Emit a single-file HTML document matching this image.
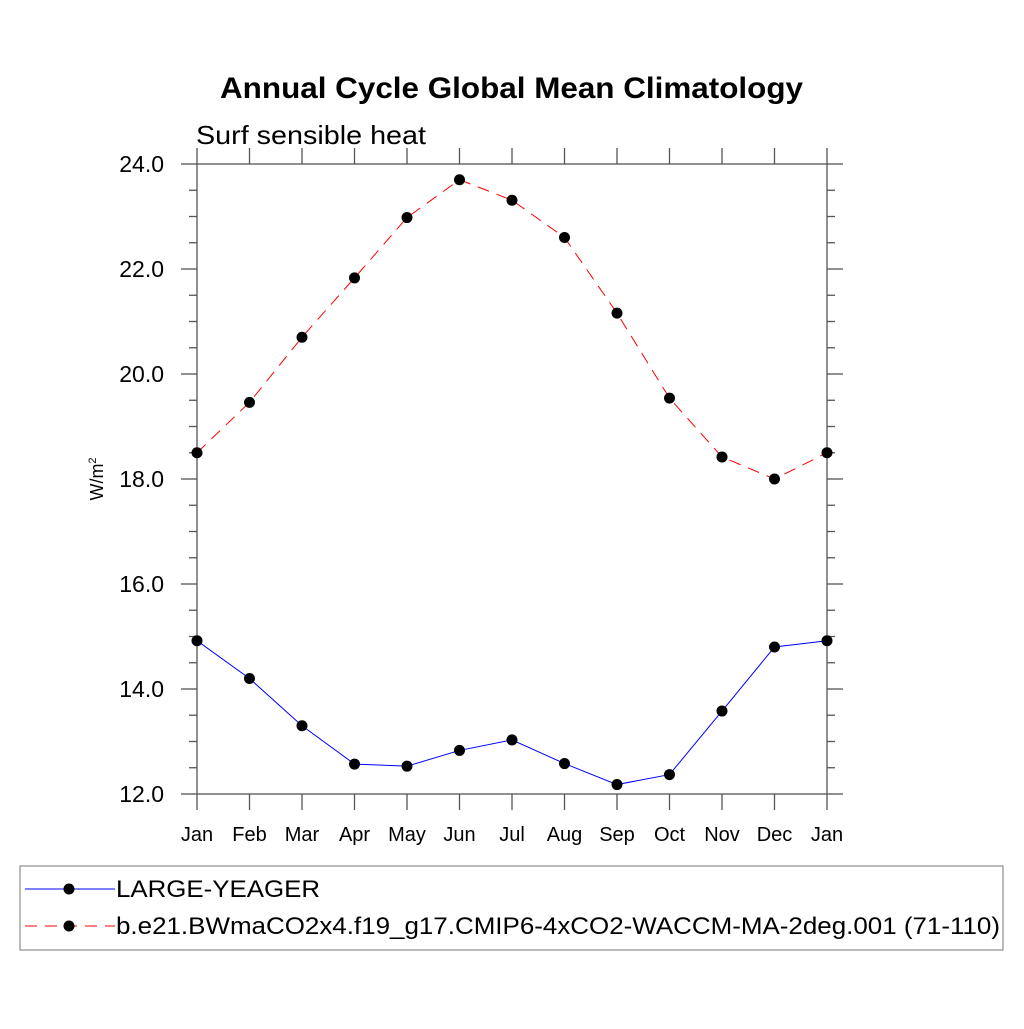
<!DOCTYPE html>
<html><head><meta charset="utf-8"><style>
body{margin:0;background:#fff}
svg text{font-family:"Liberation Sans",sans-serif}
</style></head><body>
<svg id="c" width="1024" height="1024" viewBox="0 0 1024 1024">
<text x="220" y="98" font-size="30" font-weight="bold" textLength="583" lengthAdjust="spacingAndGlyphs">Annual Cycle Global Mean Climatology</text>
<text x="196" y="144" font-size="26" textLength="230" lengthAdjust="spacingAndGlyphs">Surf sensible heat</text>
<text transform="translate(103,479) rotate(-90)" text-anchor="middle" font-size="18">W/m<tspan font-size="11" dy="-7">2</tspan></text>
<g id="axes"></g>
<g id="series"></g>
<rect x="20" y="866" width="983" height="84" fill="none" stroke="#777" stroke-width="1"/>
<line x1="25" y1="889" x2="115" y2="889" stroke="#0000ff" stroke-width="1"/>
<circle cx="69" cy="889" r="5.5" fill="#000"/>
<text x="116" y="897" font-size="24" textLength="204" lengthAdjust="spacingAndGlyphs">LARGE-YEAGER</text>
<line x1="25" y1="926" x2="115" y2="926" stroke="#ff0000" stroke-width="1" stroke-dasharray="12,8"/>
<circle cx="69" cy="926" r="5.5" fill="#000"/>
<text x="116" y="934" font-size="24" textLength="884" lengthAdjust="spacingAndGlyphs">b.e21.BWmaCO2x4.f19_g17.CMIP6-4xCO2-WACCM-MA-2deg.001 (71-110)</text>
</svg>
<script>
const months=["Jan","Feb","Mar","Apr","May","Jun","Jul","Aug","Sep","Oct","Nov","Dec","Jan"];
const yTicks=[12,14,16,18,20,22,24];
const largeYeager=[14.92,14.2,13.3,12.57,12.53,12.83,13.03,12.58,12.18,12.37,13.58,14.8,14.92];
const waccm=[18.5,19.46,20.7,21.83,22.98,23.7,23.31,22.6,21.16,19.54,18.42,18.0,18.5];
const X0=197,X1=827,Y0=794,Y1=164,ymin=12,ymax=24;
const NS="http://www.w3.org/2000/svg";
function xs(i){return X0+(X1-X0)*i/(months.length-1);}
function ys(v){return Y0-(Y0-Y1)*(v-ymin)/(ymax-ymin);}
function mk(tag,a,p){const e=document.createElementNS(NS,tag);for(const k in a)e.setAttribute(k,a[k]);p.appendChild(e);return e;}
const ax=document.getElementById('axes');
const col="#555";
let f=mk('rect',{x:X0,y:Y1,width:X1-X0,height:Y0-Y1,fill:'none',stroke:col,'stroke-width':1.3},ax);


for(let v=ymin;v<=ymax+1e-9;v+=0.5){
  const major=Math.abs(v/2-Math.round(v/2))<1e-9;
  const L=major?16:8,y=ys(v);
  let t=mk('line',{x1:X0-L,y1:y,x2:X0,y2:y,stroke:col,'stroke-width':1.3},ax);
  
  
  t=mk('line',{x1:X1,y1:y,x2:X1+L,y2:y,stroke:col,'stroke-width':1.3},ax);
  
  
}
yTicks.forEach(v=>{
  const t=mk('text',{x:164,y:ys(v)+8,'text-anchor':'end','font-size':23},ax);
  t.textContent=v.toFixed(1);
  
  
});
months.forEach((m,i)=>{
  const x=xs(i);
  let t=mk('line',{x1:x,y1:Y0,x2:x,y2:Y0+16,stroke:col,'stroke-width':1.3},ax);
  
  
  t=mk('line',{x1:x,y1:Y1-16,x2:x,y2:Y1,stroke:col,'stroke-width':1.3},ax);
  
  
  const l=mk('text',{x:x,y:841,'text-anchor':'middle','font-size':20},ax);
  l.textContent=m;
  
  
});
const sg=document.getElementById('series');
function series(vals,color,dash,name){
  const pts=vals.map((v,i)=>xs(i)+','+ys(v)).join(' ');
  const a={points:pts,fill:'none',stroke:color,'stroke-width':1};
  if(dash)a['stroke-dasharray']=dash;
  const pl=mk('polyline',a,sg);
  
  
  vals.forEach((v,i)=>{
    const c=mk('circle',{cx:xs(i),cy:ys(v),r:5.5,fill:'#000'},sg);
    
    
  });
}
series(largeYeager,'#0000ff',null,'large-yeager');
series(waccm,'#ff0000','12,8','waccm');
</script>
</body></html>
